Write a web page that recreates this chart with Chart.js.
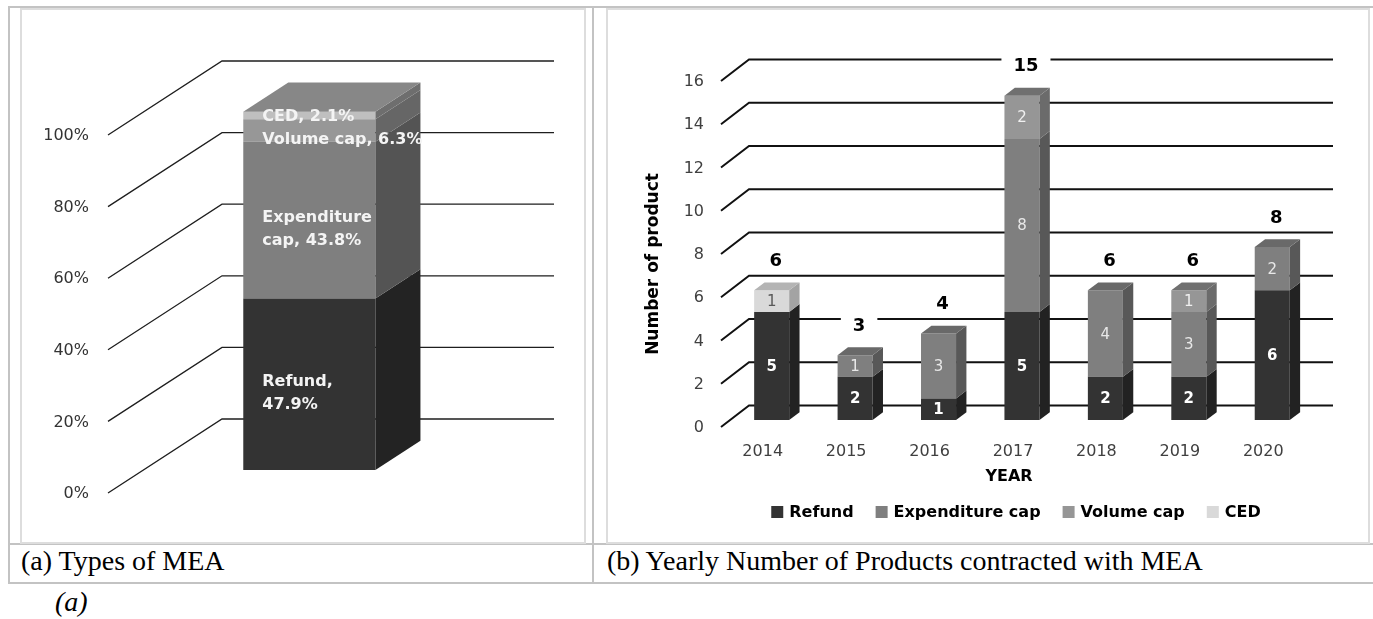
<!DOCTYPE html>
<html>
<head>
<meta charset="utf-8">
<script src="https://cdn.jsdelivr.net/npm/chart.js@4.4.1/dist/chart.umd.min.js"></script>
<style>
body { margin: 0; background: #fff; width: 1373px; height: 619px; overflow: hidden; position: relative; font-family: "Liberation Serif", "Times New Roman", serif; }
.ln { position: absolute; background: #c3c3c3; }
.frame { position: absolute; border: 2px solid #dddddd; box-sizing: border-box; }
canvas { position: absolute; }
.cap { position: absolute; font-size: 28px; line-height: 28px; color: #000; white-space: nowrap; }
</style>
</head>
<body>
<div class="ln" style="left:8px;top:6px;width:1365px;height:2px"></div>
<div class="ln" style="left:8px;top:6px;width:2px;height:578px"></div>
<div class="ln" style="left:592px;top:6px;width:2px;height:578px"></div>
<div class="ln" style="left:8px;top:543px;width:1365px;height:2px"></div>
<div class="ln" style="left:8px;top:582px;width:1365px;height:2px"></div>
<div class="frame" style="left:20px;top:8px;width:566px;height:536px"></div>
<div class="frame" style="left:606px;top:8px;width:764px;height:536px"></div>

<canvas id="chartA" width="563" height="533" style="left:21px;top:10px"></canvas>
<canvas id="chartB" width="760" height="533" style="left:608px;top:10px"></canvas>

<div class="cap" style="left:21px;top:547px">(a) Types of MEA</div>
<div class="cap" style="left:607px;top:547px">(b) Yearly Number of Products contracted with MEA</div>
<div class="cap" style="left:55px;top:588px;font-style:italic">(a)</div>

<script>
// chart (a): share of each MEA type
const typeCategory = ['Types of MEA'];
const typeNames = ['Refund', 'Expenditure cap', 'Volume cap', 'CED'];
const typeShare = [47.9, 43.8, 6.3, 2.1];
const shareTicks = [0, 20, 40, 60, 80, 100];

// chart (b): products per year
const years = ['2014', '2015', '2016', '2017', '2018', '2019', '2020'];
const seriesNames = ['Refund', 'Expenditure cap', 'Volume cap', 'CED'];
const refund = [5, 2, 1, 5, 2, 2, 6];
const expenditureCap = [0, 1, 3, 8, 4, 3, 2];
const volumeCap = [0, 0, 0, 2, 0, 1, 0];
const ced = [1, 0, 0, 0, 0, 0, 0];
const countTicks = [0, 2, 4, 6, 8, 10, 12, 14, 16];

const FONT = '"DejaVu Sans", sans-serif';

function face(ctx, pts, color) {
    ctx.beginPath();
    ctx.moveTo(pts[0][0], pts[0][1]);
    for (let i = 1; i < pts.length; i++) ctx.lineTo(pts[i][0], pts[i][1]);
    ctx.closePath();
    ctx.fillStyle = color;
    ctx.fill();
}

function wrap(ctx, text, max) {
    const out = [];
    let line = '';
    text.split(' ').forEach(w => {
        const t = line ? line + ' ' + w : w;
        if (line && ctx.measureText(t).width > max) { out.push(line); line = w; }
        else line = t;
    });
    out.push(line);
    return out;
}

// fake 3d: grid floor lines + side/top faces of the bars
function makeDepth(g) {
    return {
        id: 'depth',
        beforeDatasetsDraw(chart) {
            const ctx = chart.ctx, a = chart.chartArea, y = chart.scales.y;
            ctx.save();
            ctx.strokeStyle = g.gridColor;
            ctx.lineWidth = g.gridWidth;
            g.ticks.forEach(v => {
                const py = y.getPixelForValue(v);
                ctx.beginPath();
                ctx.moveTo(a.left, py);
                ctx.lineTo(a.left + g.dx, py - g.dy);
                ctx.lineTo(a.right + g.dx, py - g.dy);
                ctx.stroke();
            });
            ctx.fillStyle = g.tickColor;
            ctx.font = g.tickFont;
            ctx.textAlign = 'right';
            ctx.textBaseline = 'middle';
            g.ticks.forEach(v => ctx.fillText(v + g.unit, a.left - g.tickGap, y.getPixelForValue(v) + 1));
            ctx.restore();
            ctx.save();
            ctx.translate(g.dx * g.shift, -g.dy * g.shift);
        },
        afterDatasetsDraw(chart) {
            const ctx = chart.ctx;
            const bx = g.dx * g.depth, by = g.dy * g.depth;
            chart.data.labels.forEach((lab, i) => {
                let topEl = null, topDs = -1;
                chart.data.datasets.forEach((ds, d) => {
                    const el = chart.getDatasetMeta(d).data[i];
                    if (!el || !ds.data[i]) return;
                    const r = el.x + el.width / 2;
                    face(ctx, [[r, el.y], [r + bx, el.y - by], [r + bx, el.base - by], [r, el.base]], g.side[d]);
                    if (!topEl || el.y < topEl.y) { topEl = el; topDs = d; }
                });
                if (topEl) {
                    const l = topEl.x - topEl.width / 2, r = topEl.x + topEl.width / 2;
                    face(ctx, [[l, topEl.y], [l + bx, topEl.y - by], [r + bx, topEl.y - by], [r, topEl.y]], g.top[topDs]);
                }
            });
            ctx.restore();
        }
    };
}

const geoA = {
    dx: 114, dy: 74, shift: 0.31, depth: 0.395,
    ticks: shareTicks, unit: '%', tickGap: 19,
    tickFont: '16px ' + FONT, tickColor: '#333333',
    gridColor: '#1e1e1e', gridWidth: 1.3,
    side: ['#232323', '#545454', '#666666', '#6e6e6e'],
    top: ['#4a4a4a', '#6a6a6a', '#7a7a7a', '#878787']
};

const geoB = {
    dx: 28, dy: 21.5, shift: 0.32, depth: 0.37,
    ticks: countTicks, unit: '', tickGap: 17,
    tickFont: '16px ' + FONT, tickColor: '#404040',
    gridColor: '#111111', gridWidth: 2,
    side: ['#222222', '#585858', '#6b6b6b', '#a3a3a3'],
    top: ['#4a4a4a', '#696969', '#707070', '#b4b4b4']
};

const typeLabels = {
    id: 'typeLabels',
    afterDatasetsDraw(chart) {
        const ctx = chart.ctx;
        const sx = geoA.dx * geoA.shift, sy = geoA.dy * geoA.shift;
        const lh = 23;
        ctx.save();
        ctx.font = 'bold 16px ' + FONT;
        ctx.fillStyle = '#f4f4f4';
        ctx.textAlign = 'left';
        ctx.textBaseline = 'middle';
        let limit = Infinity;
        chart.data.datasets.forEach((ds, d) => {
            const el = chart.getDatasetMeta(d).data[0];
            const text = typeNames[d] + ', ' + typeShare[d].toFixed(1) + '%';
            const lines = (el.base - el.y) > 40 ? wrap(ctx, text, 120) : [text];
            const half = lines.length * lh / 2;
            let cy = (el.y + el.base) / 2 - sy + 9;
            if (cy + half > limit) cy = limit - half;
            lines.forEach((t, j) => ctx.fillText(t, el.x - el.width / 2 + sx + 19, cy - half + lh / 2 + j * lh));
            limit = cy - half;
        });
        ctx.restore();
    }
};

const yearLabels = {
    id: 'yearLabels',
    afterDatasetsDraw(chart) {
        const ctx = chart.ctx, a = chart.chartArea, y = chart.scales.y, x = chart.scales.x;
        const sx = geoB.dx * geoB.shift, sy = geoB.dy * geoB.shift;
        const segColor = ['#ffffff', '#e8e8e8', '#f0f0f0', '#595959'];
        ctx.save();
        ctx.textAlign = 'center';
        ctx.textBaseline = 'middle';
        chart.data.datasets.forEach((ds, d) => {
            chart.getDatasetMeta(d).data.forEach((el, i) => {
                if (!ds.data[i]) return;
                ctx.font = (d === 0 ? 'bold ' : '') + '15px ' + FONT;
                ctx.fillStyle = segColor[d];
                ctx.fillText(ds.data[i], el.x + sx, (el.y + el.base) / 2 - sy + 1);
            });
        });
        // totals on top
        ctx.font = 'bold 18px ' + FONT;
        years.forEach((yr, i) => {
            const total = refund[i] + expenditureCap[i] + volumeCap[i] + ced[i];
            const px = x.getPixelForValue(i) + sx + 4;
            const py = y.getPixelForValue(total) - sy - 30;
            const w = ctx.measureText(String(total)).width + 24;
            ctx.fillStyle = '#ffffff';
            ctx.fillRect(px - w / 2, py - 11, w, 22);
            ctx.fillStyle = '#000000';
            ctx.fillText(String(total), px, py + 1);
        });
        // category axis
        ctx.font = '16px ' + FONT;
        ctx.fillStyle = '#404040';
        years.forEach((yr, i) => ctx.fillText(yr, x.getPixelForValue(i), a.bottom + 25));
        ctx.font = 'bold 16px ' + FONT;
        ctx.fillStyle = '#000000';
        ctx.fillText('YEAR', (a.left + a.right) / 2 - 4, a.bottom + 50);
        // value axis title
        ctx.save();
        ctx.translate(46, (a.top + a.bottom) / 2 + 10);
        ctx.rotate(-Math.PI / 2);
        ctx.font = 'bold 17px ' + FONT;
        ctx.fillText('Number of product', 0, 0);
        ctx.restore();
        // legend
        const colors = chart.data.datasets.map(ds => ds.backgroundColor);
        ctx.font = 'bold 16px ' + FONT;
        const box = 12, gap = 6, space = 22;
        const widths = seriesNames.map(n => ctx.measureText(n).width);
        let total = space * (seriesNames.length - 1);
        widths.forEach(w => total += box + gap + w);
        let lx = (a.left + a.right) / 2 + 3 - total / 2;
        const ly = a.bottom + 85;
        ctx.textAlign = 'left';
        seriesNames.forEach((n, k) => {
            ctx.fillStyle = colors[k];
            ctx.fillRect(lx, ly - box / 2, box, box);
            ctx.fillStyle = '#000000';
            ctx.fillText(n, lx + box + gap, ly + 1);
            lx += box + gap + widths[k] + space;
        });
        ctx.restore();
    }
};

const baseScales = (max) => ({
    x: { type: 'category', display: false, stacked: true, offset: true },
    y: { display: false, stacked: true, min: 0, max: max }
});

new Chart(document.getElementById('chartA'), {
    type: 'bar',
    data: {
        labels: typeCategory,
        datasets: typeNames.map((n, k) => ({
            label: n,
            data: [typeShare[k]],
            backgroundColor: ['#333333', '#7f7f7f', '#979797', '#bfbfbf'][k],
            borderWidth: 0,
            clip: false
        }))
    },
    options: {
        responsive: false,
        animation: false,
        categoryPercentage: 1,
        barPercentage: 0.398,
        layout: { padding: { left: 87, right: 144, top: 125, bottom: 50 } },
        scales: baseScales(100),
        plugins: { legend: { display: false }, tooltip: { enabled: false } }
    },
    plugins: [makeDepth(geoA), typeLabels]
});

new Chart(document.getElementById('chartB'), {
    type: 'bar',
    data: {
        labels: years,
        datasets: [
            { label: seriesNames[0], data: refund, backgroundColor: '#333333' },
            { label: seriesNames[1], data: expenditureCap, backgroundColor: '#7f7f7f' },
            { label: seriesNames[2], data: volumeCap, backgroundColor: '#969696' },
            { label: seriesNames[3], data: ced, backgroundColor: '#d9d9d9' }
        ].map(ds => Object.assign(ds, { borderWidth: 0, clip: false }))
    },
    options: {
        responsive: false,
        animation: false,
        categoryPercentage: 1,
        barPercentage: 0.42,
        layout: { padding: { left: 113, right: 63, top: 71, bottom: 116 } },
        scales: baseScales(16),
        plugins: { legend: { display: false }, tooltip: { enabled: false } }
    },
    plugins: [makeDepth(geoB), yearLabels]
});
</script>
</body>
</html>
